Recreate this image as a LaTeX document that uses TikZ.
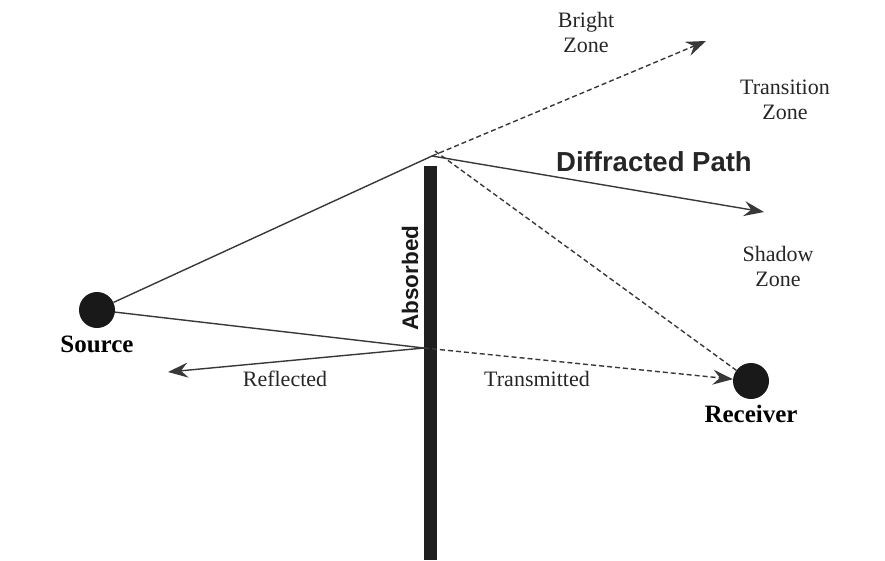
\documentclass[tikz,border=0pt]{standalone}
\usepackage{fontspec}
\setmainfont{Liberation Serif}
\setsansfont{Liberation Sans}
\newfontfamily\timesface{Liberation Serif}
\newfontfamily\arialface{Liberation Sans}
\usetikzlibrary{positioning, arrows.meta}

\begin{document}
\begin{tikzpicture}[x=1pt, y=-1pt, node distance=4pt,
		ball/.style={circle, fill=black!90, minimum size=36pt, inner sep=0pt},
		label name/.style={font=\timesface\bfseries\fontsize{25}{28}\selectfont, inner sep=0pt},
		zone/.style={font=\timesface\fontsize{22}{25}\selectfont, align=center, text=black!85, inner sep=0pt},
		ray/.style={draw=black!78, line width=1.4pt},
		wave/.style={ray, dash pattern=on 5pt off 3pt},
		headed/.style={-{Stealth[length=20pt, width=15pt, inset=7pt]}},
		wall/.style={fill=black!88, minimum width=13pt, minimum height=394pt, inner sep=0pt}]
	\useasboundingbox (0,0) rectangle (885,560);

	\node[wall] (wall) at (430.5,363) {};
	\node[ball] (src) at (97,310) {};
	\node[ball] (rcv) at (751,381) {};
	\node[label name, below=8pt of src] (srcname) {Source};
	\node[label name, below=6pt of rcv] (rcvname) {Receiver};

	\coordinate (tip) at (432,156);
	\coordinate (hit) at (424,348);
	\coordinate (bright) at (706,41);
	\coordinate (diff) at (764,212);
	\coordinate (back) at (168,372);

	\draw[ray] (src) -- (tip);
	\draw[ray] (src) -- (hit);
	\draw[wave, headed] (tip) -- (bright);
	\draw[ray, headed] (tip) -- (diff);
	\draw[wave] ([xshift=3pt, yshift=5pt]tip) -- (rcv);
	\draw[ray, headed] (hit) -- (back);
	\draw[wave, headed] (hit) -- (rcv);

	\node[zone] (brightzone) at (586,32) {Bright\\Zone};
	\node[zone] (transzone) at (785,100) {Transition\\Zone};
	\node[zone] (shadowzone) at (778,266) {Shadow\\Zone};
	\node[zone] (refl) at (285,379) {Reflected};
	\node[zone] (trans) at (537,379) {Transmitted};
	\node[font=\arialface\bfseries\fontsize{27.5}{30}\selectfont, text=black!85] (diffname) at (654,162) {Diffracted Path};
	\node[font=\arialface\bfseries\fontsize{22.5}{25}\selectfont, rotate=90, text=black!90] (absorbed) at (410,278) {Absorbed};
\end{tikzpicture}
\end{document}
